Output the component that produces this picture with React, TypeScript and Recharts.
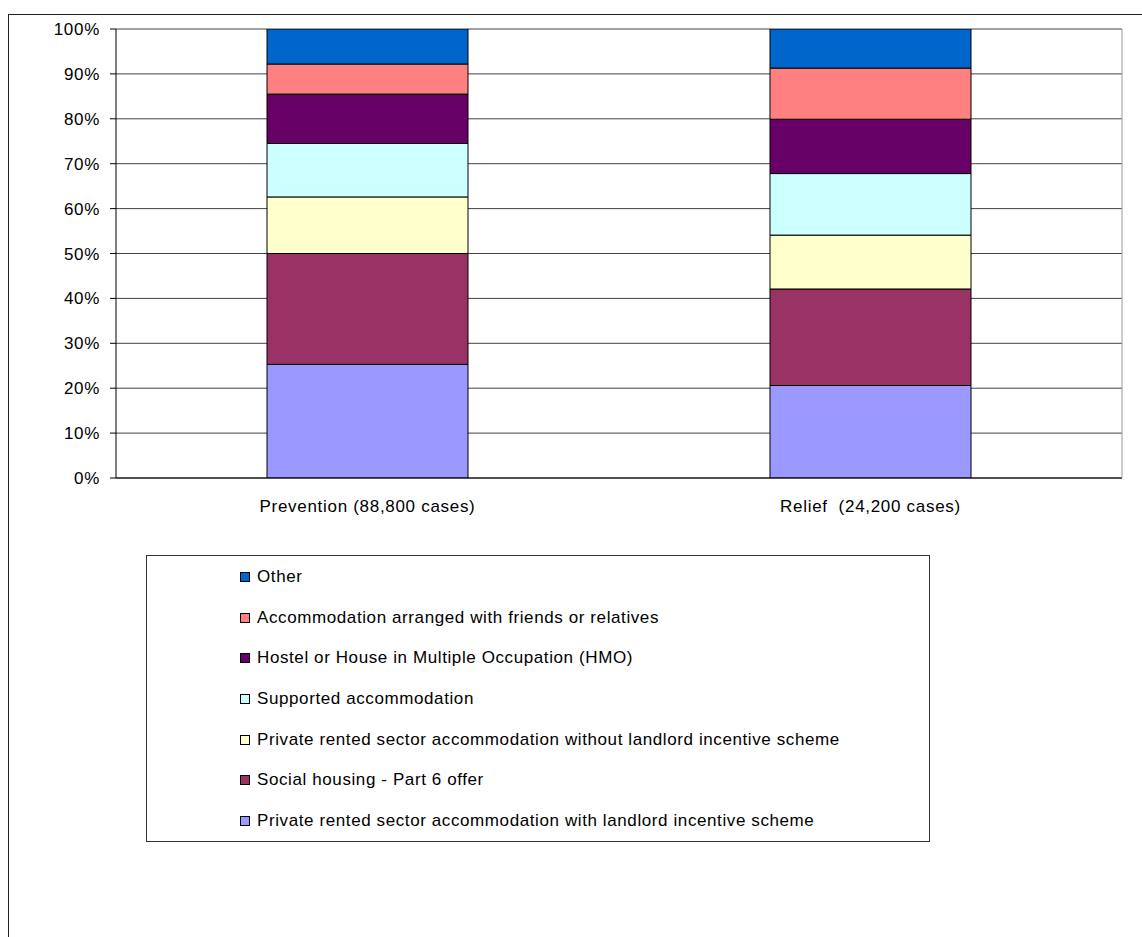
import React from 'react'
import { BarChart, Bar, XAxis, YAxis, CartesianGrid, Legend } from 'recharts'

const FONT = '"Liberation Sans", Arial, sans-serif'
const LS = 0.7 // the source font runs a bit wide

// categories (note: the second label really has two spaces)
const CATEGORIES = ['Prevention (88,800 cases)', 'Relief  (24,200 cases)']

// share of cases (%) per outcome, [prevention, relief]
const PRS_INCENTIVE = [25.3, 20.6]
const SOCIAL_PART6 = [24.7, 21.5]
const PRS_NO_INCENTIVE = [12.6, 12.0]
const SUPPORTED = [11.9, 13.7]
const HOSTEL_HMO = [11.0, 12.1]
const FRIENDS_RELATIVES = [6.7, 11.4]
const OTHER = [7.8, 8.7]

const SERIES_KEYS = ['prsInc', 'social', 'prsNo', 'supported', 'hostel', 'friends', 'other']
const SERIES_NAMES = [
  'Private rented sector accommodation with landlord incentive scheme',
  'Social housing - Part 6 offer',
  'Private rented sector accommodation without landlord incentive scheme',
  'Supported accommodation',
  'Hostel or House in Multiple Occupation (HMO)',
  'Accommodation arranged with friends or relatives',
  'Other',
]
const SERIES_VALUES = [PRS_INCENTIVE, SOCIAL_PART6, PRS_NO_INCENTIVE, SUPPORTED, HOSTEL_HMO, FRIENDS_RELATIVES, OTHER]

const Y_TICKS = [0, 10, 20, 30, 40, 50, 60, 70, 80, 90, 100]
const EDGE_TICKS = [0, 1, 2]

const COLORS = ['#9999FF', '#993366', '#FFFFCC', '#CCFFFF', '#660066', '#FF8080', '#0066CC']

const data = CATEGORIES.map((name, i) => {
  const row: Record<string, string | number> = { name }
  SERIES_KEYS.forEach((k, s) => {
    row[k] = SERIES_VALUES[s][i]
  })
  return row
})

function CategoryTick({ x, y, payload }: any) {
  return (
    <text
      x={x}
      y={y}
      dy={33}
      textAnchor="middle"
      fill="#000"
      fontSize={17}
      fontFamily={FONT}
      letterSpacing={LS}
      style={{ whiteSpace: 'pre' }}
    >
      {payload.value}
    </text>
  )
}

// legend shown top-down, i.e. reverse of stacking order
function LegendBox({ payload }: any) {
  const items = [...(payload ?? [])].sort(
    (a: any, b: any) => SERIES_KEYS.indexOf(b.dataKey) - SERIES_KEYS.indexOf(a.dataKey)
  )
  return (
    <div
      style={{
        width: 784,
        height: 287,
        boxSizing: 'border-box',
        border: '1px solid #333',
        paddingTop: 1,
        fontFamily: FONT,
        fontSize: 17,
        letterSpacing: LS - 0.1,
        color: '#000',
      }}
    >
      {items.map((it: any) => (
        <div key={it.dataKey} style={{ height: 40.6, display: 'flex', alignItems: 'center', paddingLeft: 93 }}>
          <span
            style={{
              display: 'inline-block',
              width: 8,
              height: 8,
              background: it.color,
              border: '1px solid #000',
              marginRight: 7,
            }}
          />
          <span>{it.value}</span>
        </div>
      ))}
    </div>
  )
}

export default function App() {
  return (
    <div style={{ position: 'absolute', left: 8, top: 14, width: 1134, height: 923, fontFamily: FONT }}>
      <div
        style={{
          position: 'absolute',
          left: 0,
          top: 0,
          width: 1134,
          height: 923,
          boxSizing: 'border-box',
          borderLeft: '1px solid #222',
          borderTop: '1px solid #222',
        }}
      />
      <div style={{ position: 'absolute', left: 0, top: 0 }}>
        <BarChart
          width={1134}
          height={923}
          data={data}
          barSize={201}
          margin={{ top: 15, right: 0, left: 0, bottom: 457 }}
        >
          <CartesianGrid xAxisId="b" yAxisId="left" vertical={false} stroke="#444" />
          {/* boundary ticks between categories, as in the original */}
          <XAxis
            xAxisId="a"
            type="number"
            domain={[0, 2]}
            ticks={EDGE_TICKS}
            allowDataOverflow
            height={1}
            tick={false}
            tickSize={6}
            axisLine={{ stroke: '#000' }}
            tickLine={{ stroke: '#000' }}
          />
          <XAxis
            xAxisId="b"
            dataKey="name"
            height={1}
            axisLine={false}
            tickLine={false}
            tickSize={0}
            tickMargin={0}
            interval={0}
            tick={<CategoryTick />}
          />
          <YAxis
            yAxisId="left"
            width={108}
            domain={[0, 100]}
            ticks={Y_TICKS}
            allowDataOverflow
            tickFormatter={(v) => `${v}%`}
            tick={{ fill: '#000', fontSize: 17, fontFamily: FONT, letterSpacing: LS }}
            tickSize={6}
            tickMargin={10}
            axisLine={{ stroke: '#000' }}
            tickLine={{ stroke: '#000' }}
          />
          <YAxis
            yAxisId="right"
            orientation="right"
            width={20}
            domain={[0, 100]}
            tick={false}
            tickLine={false}
            axisLine={{ stroke: '#999' }}
          />
          <Legend
            layout="vertical"
            align="center"
            verticalAlign="middle"
            wrapperStyle={{ left: 138, top: 541, width: 784, height: 287 }}
            content={<LegendBox />}
          />
          {SERIES_KEYS.map((k, s) => (
            <Bar
              key={k}
              xAxisId="b"
              yAxisId="left"
              dataKey={k}
              name={SERIES_NAMES[s]}
              stackId="a"
              fill={COLORS[s]}
              stroke="#000"
              strokeWidth={1}
              isAnimationActive={false}
            />
          ))}
        </BarChart>
      </div>
    </div>
  )
}
